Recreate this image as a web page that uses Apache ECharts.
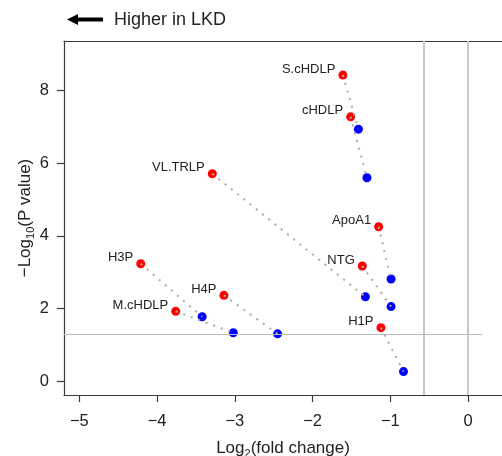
<!DOCTYPE html>
<html>
<head>
<meta charset="utf-8">
<script src="https://cdn.jsdelivr.net/npm/echarts@6/dist/echarts.min.js"></script>
<style>
  html, body { margin: 0; padding: 0; background: #fff; }
  #volcano { width: 502px; height: 456px; }
</style>
</head>
<body>
<div id="volcano"></div>
<script>
// red = labelled parameter, blue = its paired point (joined by dotted line)
const names  = ['S.cHDLP', 'cHDLP', 'VL.TRLP', 'ApoA1', 'NTG', 'H1P', 'H3P', 'M.cHDLP', 'H4P'];
const redX   = [-1.61, -1.51, -3.29, -1.15, -1.36, -1.12, -4.21, -3.76, -3.14];
const redY   = [8.43, 7.28, 5.71, 4.25, 3.17, 1.47, 3.23, 1.92, 2.36];
const blueX  = [-1.41, -1.30, -1.32, -0.99, -0.99, -0.83, -3.42, -3.02, -2.45];
const blueY  = [6.94, 5.60, 2.32, 2.81, 2.05, 0.26, 1.77, 1.33, 1.30];
const xTicks = [-5, -4, -3, -2, -1, 0];
const yTicks = [0, 2, 4, 6, 8];
const pCutoff = 1.3;          // -log10(0.05)
const pLineEnd = 0.18;
const fcCutoffs = [-0.57, 0];

const FONT = 'Liberation Sans, Arial, Helvetica, sans-serif';
const AXIS = '#3a3a3a';
const minus = v => (v < 0 ? '\u2212' + Math.abs(v) : String(v));

const chart = echarts.init(document.getElementById('volcano'));

const redData = names.map((n, i) => ({ name: n, value: [redX[i], redY[i]] }));
const blueData = blueX.map((x, i) => [x, blueY[i]]);
const links = names.map((n, i) => ({ coords: [[redX[i], redY[i]], [blueX[i], blueY[i]]] }));

chart.setOption({
  animation: false,
  textStyle: { fontFamily: FONT },
  grid: { left: 64, top: 41, right: 0, bottom: 61, containLabel: false, outerBoundsMode: 'none' },
  graphic: [
    { type: 'polygon', shape: { points: [[67, 19.5], [78, 14], [78, 25]] }, style: { fill: '#000' } },
    { type: 'line', shape: { x1: 76, y1: 19.5, x2: 103, y2: 19.5 }, style: { stroke: '#000', lineWidth: 4 } },
    { type: 'text', x: 114, y: 20,
      style: { text: 'Higher in LKD', fontSize: 18, fontFamily: FONT, fill: '#222', verticalAlign: 'middle' } }
  ],
  xAxis: [
    {
      type: 'value', min: -5.197, max: 0.437,
      splitLine: { show: false },
      axisLine: { onZero: false, lineStyle: { color: AXIS, width: 1.2 } },
      axisTick: { length: 7, customValues: xTicks, lineStyle: { color: AXIS, width: 1.2 } },
      axisLabel: { customValues: xTicks, formatter: minus, fontSize: 16.5, color: '#222', margin: 18 },
      name: 'Log{s|2}(fold change)', nameLocation: 'middle', nameGap: 42, nameMoveOverlap: false,
      nameTextStyle: { fontSize: 17, color: '#222', lineHeight: 22,
        rich: { s: { fontSize: 11, lineHeight: 11, verticalAlign: 'bottom', color: '#222' } } }
    },
    {
      type: 'value', position: 'top', min: -5.197, max: 0.437,
      splitLine: { show: false }, axisTick: { show: false }, axisLabel: { show: false },
      axisLine: { onZero: false, lineStyle: { color: AXIS, width: 1.2 } }
    }
  ],
  yAxis: {
    type: 'value', min: -0.386, max: 9.369,
    splitLine: { show: false },
    axisLine: { show: true, onZero: false, lineStyle: { color: AXIS, width: 1.2 } },
    axisTick: { show: true, length: 7, customValues: yTicks, lineStyle: { color: AXIS, width: 1.2 } },
    axisLabel: { customValues: yTicks, fontSize: 16.5, color: '#222', margin: 15 },
    name: '\u2212Log{s|10}(P value)', nameLocation: 'middle', nameGap: 28, nameRotate: 90,
    nameMoveOverlap: false,
    nameTextStyle: { fontSize: 17, color: '#222', lineHeight: 22,
      rich: { s: { fontSize: 11, lineHeight: 11, verticalAlign: 'bottom', color: '#222' } } }
  },
  series: [
    {
      type: 'line', data: [], z: 1, silent: true,
      markLine: {
        symbol: 'none', silent: true, label: { show: false },
        data: [
          ...fcCutoffs.map(v => ({ xAxis: v, lineStyle: { color: '#c8c8c8', width: 2, type: 'solid' } })),
          [{ coord: [-5.197, pCutoff], lineStyle: { color: '#bdbdbd', width: 1.2, type: 'solid' } },
           { coord: [pLineEnd, pCutoff] }]
        ]
      }
    },
    {
      type: 'scatter', data: blueData, z: 2, symbolSize: 9,
      itemStyle: { color: '#0000ff', opacity: 1 }
    },
    {
      type: 'scatter', data: redData, z: 2, symbolSize: 9,
      itemStyle: { color: '#ff0000', opacity: 1 },
      label: {
        show: true, position: 'left', distance: 3, offset: [0, -6],
        formatter: p => p.name, fontSize: 13, color: '#222', fontFamily: FONT
      }
    },
    {
      type: 'lines', coordinateSystem: 'cartesian2d', data: links, z: 3, silent: true,
      lineStyle: { color: '#aaaaaa', width: 2, type: [2, 6], opacity: 1 }
    }
  ]
});
</script>
</body>
</html>
